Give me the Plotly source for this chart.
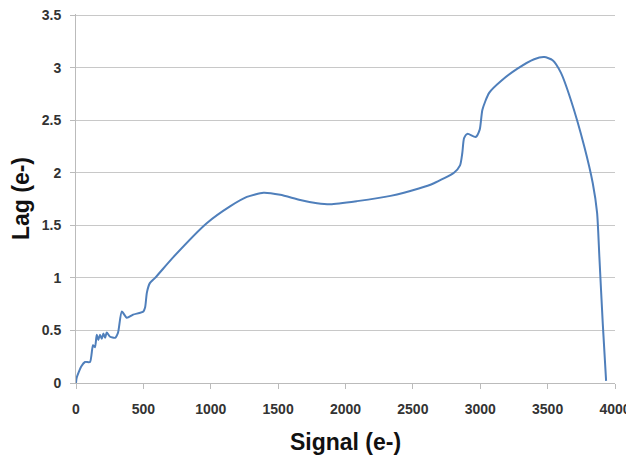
import plotly.graph_objects as go

signal = [0, 5, 40, 67, 104, 126, 141, 154, 166, 178, 191, 203, 216, 228, 253, 290, 312, 340, 377, 424, 500,
          513, 526, 548, 587, 724, 970, 1143, 1268, 1391, 1516, 1664, 1789, 1888, 2086, 2334, 2544,
          2656, 2805, 2850, 2867, 2880, 2905, 2966, 2996, 3016, 3066, 3152, 3276, 3400, 3475, 3537,
          3599, 3673, 3772, 3835, 3867, 3884, 3909, 3934]
lag = [0.0, 0.05, 0.16, 0.2, 0.2, 0.36, 0.34, 0.46, 0.41, 0.46, 0.42, 0.47, 0.43, 0.48, 0.44, 0.43, 0.48, 0.68, 0.62, 0.65, 0.68,
       0.72, 0.86, 0.95, 1.0, 1.20, 1.52, 1.68, 1.77, 1.81, 1.79, 1.74, 1.71, 1.70, 1.73, 1.78, 1.85,
       1.90, 2.0, 2.07, 2.19, 2.33, 2.37, 2.34, 2.41, 2.6, 2.76, 2.87, 2.99, 3.08, 3.10, 3.07,
       2.95, 2.69, 2.25, 1.90, 1.62, 1.20, 0.57, 0.02]

x_ticks = [0, 500, 1000, 1500, 2000, 2500, 3000, 3500, 4000]
y_ticks = [0, 0.5, 1, 1.5, 2, 2.5, 3, 3.5]
y_labels = ["0", "0.5", "1", "1.5", "2", "2.5", "3", "3.5"]

fig = go.Figure(go.Scatter(
    x=signal, y=lag, mode="lines",
    line=dict(color="#4f7fbb", width=2, shape="spline", smoothing=0.6),
    showlegend=False,
))

tickfont = dict(family="Liberation Sans", size=14, color="#333333", weight="bold")
titlefont = dict(family="Liberation Sans", size=23, color="#111111", weight="bold")

# the page body has an 8px margin; the figure is sized to fill the rest of the window
fig.update_layout(
    width=626, height=447,
    margin=dict(l=68, r=19, t=6, b=72),
    paper_bgcolor="white", plot_bgcolor="white",
    xaxis=dict(
        range=[0, 4000], tickvals=x_ticks, ticktext=[str(v) for v in x_ticks],
        showgrid=False, zeroline=False, automargin=False,
        showline=True, linecolor="#bbbbbb", linewidth=1,
        ticks="outside", ticklen=5, tickcolor="#bbbbbb",
        tickfont=tickfont, ticklabelstandoff=8, ticklabeloverflow="allow",
        title=dict(text="Signal (e-)", font=titlefont, standoff=18),
    ),
    yaxis=dict(
        range=[0, 3.51], tickvals=y_ticks, ticktext=y_labels,
        showgrid=True, gridcolor="#c8c8c8", gridwidth=1, zeroline=False, automargin=False,
        showline=True, linecolor="#bbbbbb", linewidth=1,
        ticks="outside", ticklen=5, tickcolor="#bbbbbb",
        tickfont=tickfont, ticklabelstandoff=6, ticklabeloverflow="allow",
        title=dict(text="Lag (e-)", font=titlefont, standoff=7),
    ),
)

fig.write_html("out.html")
